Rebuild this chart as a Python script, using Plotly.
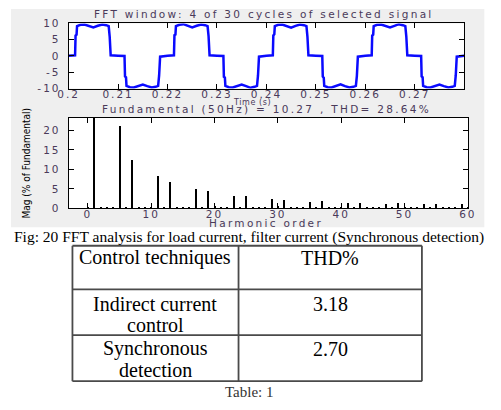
import plotly.graph_objects as go

W, H = 501, 410

# ---------------- data ----------------
time_s = [
    0.2000, 0.2013, 0.2014, 0.2016, 0.2017, 0.2024, 0.2032, 0.2041, 0.2050, 0.2059, 0.2068, 0.2076, 0.2081, 0.2083, 0.2085,
    0.2100, 0.2113, 0.2114, 0.2116, 0.2117, 0.2124, 0.2132, 0.2141, 0.2150, 0.2159, 0.2168, 0.2176, 0.2181, 0.2183, 0.2185,
    0.2200, 0.2213, 0.2214, 0.2216, 0.2217, 0.2224, 0.2232, 0.2241, 0.2250, 0.2259, 0.2268, 0.2276, 0.2281, 0.2283, 0.2285,
    0.2300, 0.2313, 0.2314, 0.2316, 0.2317, 0.2324, 0.2332, 0.2341, 0.2350, 0.2359, 0.2368, 0.2376, 0.2381, 0.2383, 0.2385,
    0.2400, 0.2413, 0.2414, 0.2416, 0.2417, 0.2424, 0.2432, 0.2441, 0.2450, 0.2459, 0.2468, 0.2476, 0.2481, 0.2483, 0.2485,
    0.2500, 0.2513, 0.2514, 0.2516, 0.2517, 0.2524, 0.2532, 0.2541, 0.2550, 0.2559, 0.2568, 0.2576, 0.2581, 0.2583, 0.2585,
    0.2600, 0.2613, 0.2614, 0.2616, 0.2617, 0.2624, 0.2632, 0.2641, 0.2650, 0.2659, 0.2668, 0.2676, 0.2681, 0.2683, 0.2685,
    0.2700, 0.2713, 0.2714, 0.2716, 0.2717, 0.2724, 0.2732, 0.2741, 0.2750, 0.2759, 0.2768, 0.2776, 0.2781, 0.2783, 0.2785,
    0.2800,
]
current_a = [
    0.1, 0.2, 6.3, 6.6, 9.2, 9.6, 9.7, 9.3, 8.8, 9.3, 9.7, 9.5, 9.2, 6.0, 0.2,
    0.1, 0.0, -6.3, -6.6, -9.2, -9.6, -9.7, -9.3, -8.8, -9.3, -9.7, -9.5, -9.2, -6.0, -0.2,
    0.1, 0.2, 6.4, 6.6, 9.2, 9.6, 9.8, 9.3, 8.8, 9.3, 9.7, 9.5, 9.2, 6.1, 0.2,
    0.1, 0.0, -6.4, -6.6, -9.2, -9.6, -9.7, -9.3, -8.8, -9.3, -9.8, -9.5, -9.2, -6.0, -0.2,
    0.1, 0.2, 6.3, 6.7, 9.2, 9.6, 9.7, 9.3, 8.7, 9.3, 9.7, 9.5, 9.2, 6.0, 0.2,
    0.1, 0.0, -6.3, -6.7, -9.2, -9.6, -9.7, -9.3, -8.7, -9.3, -9.7, -9.5, -9.2, -6.1, -0.2,
    0.1, 0.2, 6.3, 6.6, 9.2, 9.6, 9.7, 9.3, 8.8, 9.3, 9.8, 9.5, 9.2, 6.0, 0.2,
    0.1, 0.0, -6.3, -6.6, -9.2, -9.6, -9.7, -9.3, -8.8, -9.3, -9.7, -9.5, -9.2, -6.0, -0.2,
    0.1,
]

harmonic_order = list(range(0, 61))
harmonic_mag = [
    0.4, 100.0, 0.3, 0.3, 0.3, 21.2, 0.3, 12.5, 0.3, 0.4,
    0.4, 8.3, 0.3, 6.9, 0.3, 0.3, 0.3, 5.0, 0.3, 4.6,
    0.6, 0.3, 0.3, 3.4, 0.3, 3.2, 0.3, 0.3, 0.3, 2.5,
    0.7, 2.3, 0.3, 0.3, 0.3, 1.8, 0.3, 2.0, 0.3, 0.3,
    0.3, 1.6, 0.4, 1.4, 0.3, 0.3, 0.3, 1.3, 0.4, 1.5,
    0.5, 0.3, 0.3, 1.1, 0.3, 1.1, 0.3, 0.3, 0.3, 1.1,
    0.5,
]

top_xtick_vals = [0.20, 0.21, 0.22, 0.23, 0.24, 0.25, 0.26, 0.27]
top_xtick_text = ["0.2", "0.21", "0.22", "0.23", "0.24", "0.25", "0.26", "0.27"]
top_ytick_vals = [-10, -5, 0, 5, 10]
bot_xtick_vals = [0, 10, 20, 30, 40, 50, 60]
bot_ytick_vals = [0, 5, 10, 15, 20]

title_top = "FFT window: 4 of 30 cycles of selected signal"
title_bottom = "Fundamental (50Hz) = 10.27 , THD= 28.64%"
xlabel_top = "Time (s)"
xlabel_bottom = "Harmonic order"
ylabel_bottom = "Mag (% of Fundamental)"
caption = "Fig: 20 FFT analysis for load current, filter current (Synchronous detection)"

table_header = ["Control techniques", "THD%"]
table_technique = ["Indirect current<br>control", "Synchronous<br>detection"]
table_thd = ["3.18", "2.70"]
table_label = "Table: 1"

# ---------------- layout helpers ----------------
def fx(p):
    return p / W

def fy(p):
    return 1 - p / H

def spaced(s, ls):
    return f'<span style="letter-spacing:{ls}px">{s}</span>'

ML_FONT = "DejaVu Sans"
ML_COLOR = "#4a3a5a"
ML_SIZE = 10.5
LS = 2

top_dom_x = [fx(60), fx(472)]
top_dom_y = [fy(85), fy(18)]
bot_dom_x = [fx(60), fx(476)]
bot_dom_y = [fy(208.5), fy(115)]

fig = go.Figure()

fig.add_trace(go.Scatter(
    x=time_s, y=current_a, mode="lines",
    line=dict(color="#0a0aff", width=2.5),
    xaxis="x", yaxis="y", hoverinfo="skip",
))

fig.add_trace(go.Bar(
    x=harmonic_order, y=harmonic_mag, width=0.24,
    marker=dict(color="black", line=dict(width=0)),
    xaxis="x2", yaxis="y2", hoverinfo="skip",
))

axis_common = dict(
    showline=True, linecolor="black", linewidth=1, mirror="ticks",
    ticks="inside", ticklen=5, tickcolor="black", tickwidth=1,
    showgrid=False, zeroline=False,
    tickfont=dict(family=ML_FONT, size=ML_SIZE, color=ML_COLOR),
)

fig.update_layout(
    width=W, height=H,
    margin=dict(l=0, r=0, t=0, b=0),
    paper_bgcolor="white", plot_bgcolor="white",
    showlegend=False, bargap=0,
    xaxis=dict(domain=top_dom_x, anchor="y", range=[0.19999, 0.28],
               tickvals=top_xtick_vals,
               ticktext=[spaced(t, LS) for t in top_xtick_text],
               ticklabelstandoff=-4, **axis_common),
    yaxis=dict(domain=top_dom_y, anchor="x", range=[-10.02, 10.02],
               tickvals=top_ytick_vals,
               ticktext=[spaced(str(v), LS) for v in top_ytick_vals],
               ticklabelstandoff=5, **axis_common),
    xaxis2=dict(domain=bot_dom_x, anchor="y2", range=[-3.03, 60.02],
                tickvals=bot_xtick_vals,
                ticktext=[spaced(str(v), LS) for v in bot_xtick_vals],
                ticklabelstandoff=-4, **axis_common),
    yaxis2=dict(domain=bot_dom_y, anchor="x2", range=[0, 23.3],
                tickvals=bot_ytick_vals,
                ticktext=[spaced(str(v), LS) for v in bot_ytick_vals],
                ticklabelstandoff=5, **axis_common),
)

# MATLAB figure background and white axes backgrounds
fig.add_shape(type="rect", xref="paper", yref="paper",
              x0=fx(0), x1=fx(493), y0=fy(228), y1=fy(3),
              fillcolor="#efefef", line=dict(width=0), layer="below")
for dx, dy in [(top_dom_x, top_dom_y), (bot_dom_x, bot_dom_y)]:
    fig.add_shape(type="rect", xref="paper", yref="paper",
                  x0=dx[0], x1=dx[1], y0=dy[0], y1=dy[1],
                  fillcolor="white", line=dict(width=0), layer="below")

def ann(text, x, y, size, color, family, angle=0):
    fig.add_annotation(text=text, x=fx(x), y=fy(y), xref="paper", yref="paper",
                       xanchor="center", yanchor="middle", showarrow=False,
                       textangle=angle,
                       font=dict(size=size, color=color, family=family))

ann(spaced(title_top, 2.3), 264, 8.5, ML_SIZE, ML_COLOR, ML_FONT)
ann(spaced(xlabel_top, 0.6), 251, 99.5, 8, ML_COLOR, ML_FONT)
ann(spaced(title_bottom, 2.3), 266, 106.5, ML_SIZE, ML_COLOR, ML_FONT)
ann(spaced(xlabel_bottom, 2.3), 266, 224, ML_SIZE, ML_COLOR, ML_FONT)
ann(ylabel_bottom, 16, 162, 10, "black", "Liberation Sans Narrow, DejaVu Sans Condensed", angle=-90)
ann(caption, 248, 237.5, 15.5, "black", "Liberation Serif")
ann(table_label, 248, 398, 15, "#333333", "Liberation Serif")

# ---------------- table (grid lines + centred cell text) ----------------
col_edges = [64, 237, 428]
row_edges = [247, 292, 339, 386.5]
TLINE = dict(color="#4a4a4a", width=1.8)
for xe in col_edges:
    fig.add_shape(type="line", xref="paper", yref="paper",
                  x0=fx(xe), x1=fx(xe), y0=fy(row_edges[0]), y1=fy(row_edges[-1]), line=TLINE)
for ye in row_edges:
    fig.add_shape(type="line", xref="paper", yref="paper",
                  x0=fx(col_edges[0]), x1=fx(col_edges[-1]), y0=fy(ye), y1=fy(ye), line=TLINE)

table_rows = [table_header] + [list(r) for r in zip(table_technique, table_thd)]
first_line_offset = [12.3, 14.7, 14.3]
LINE_GAP = 21.6
for ri, row in enumerate(table_rows):
    for ci, txt in enumerate(row):
        cx = (col_edges[ci] + col_edges[ci + 1]) / 2
        for li, part in enumerate(txt.split("<br>")):
            cy = row_edges[ri] + first_line_offset[ri] + li * LINE_GAP
            ann(part, cx, cy, 20, "black", "Liberation Serif")

fig.write_html("out.html")
